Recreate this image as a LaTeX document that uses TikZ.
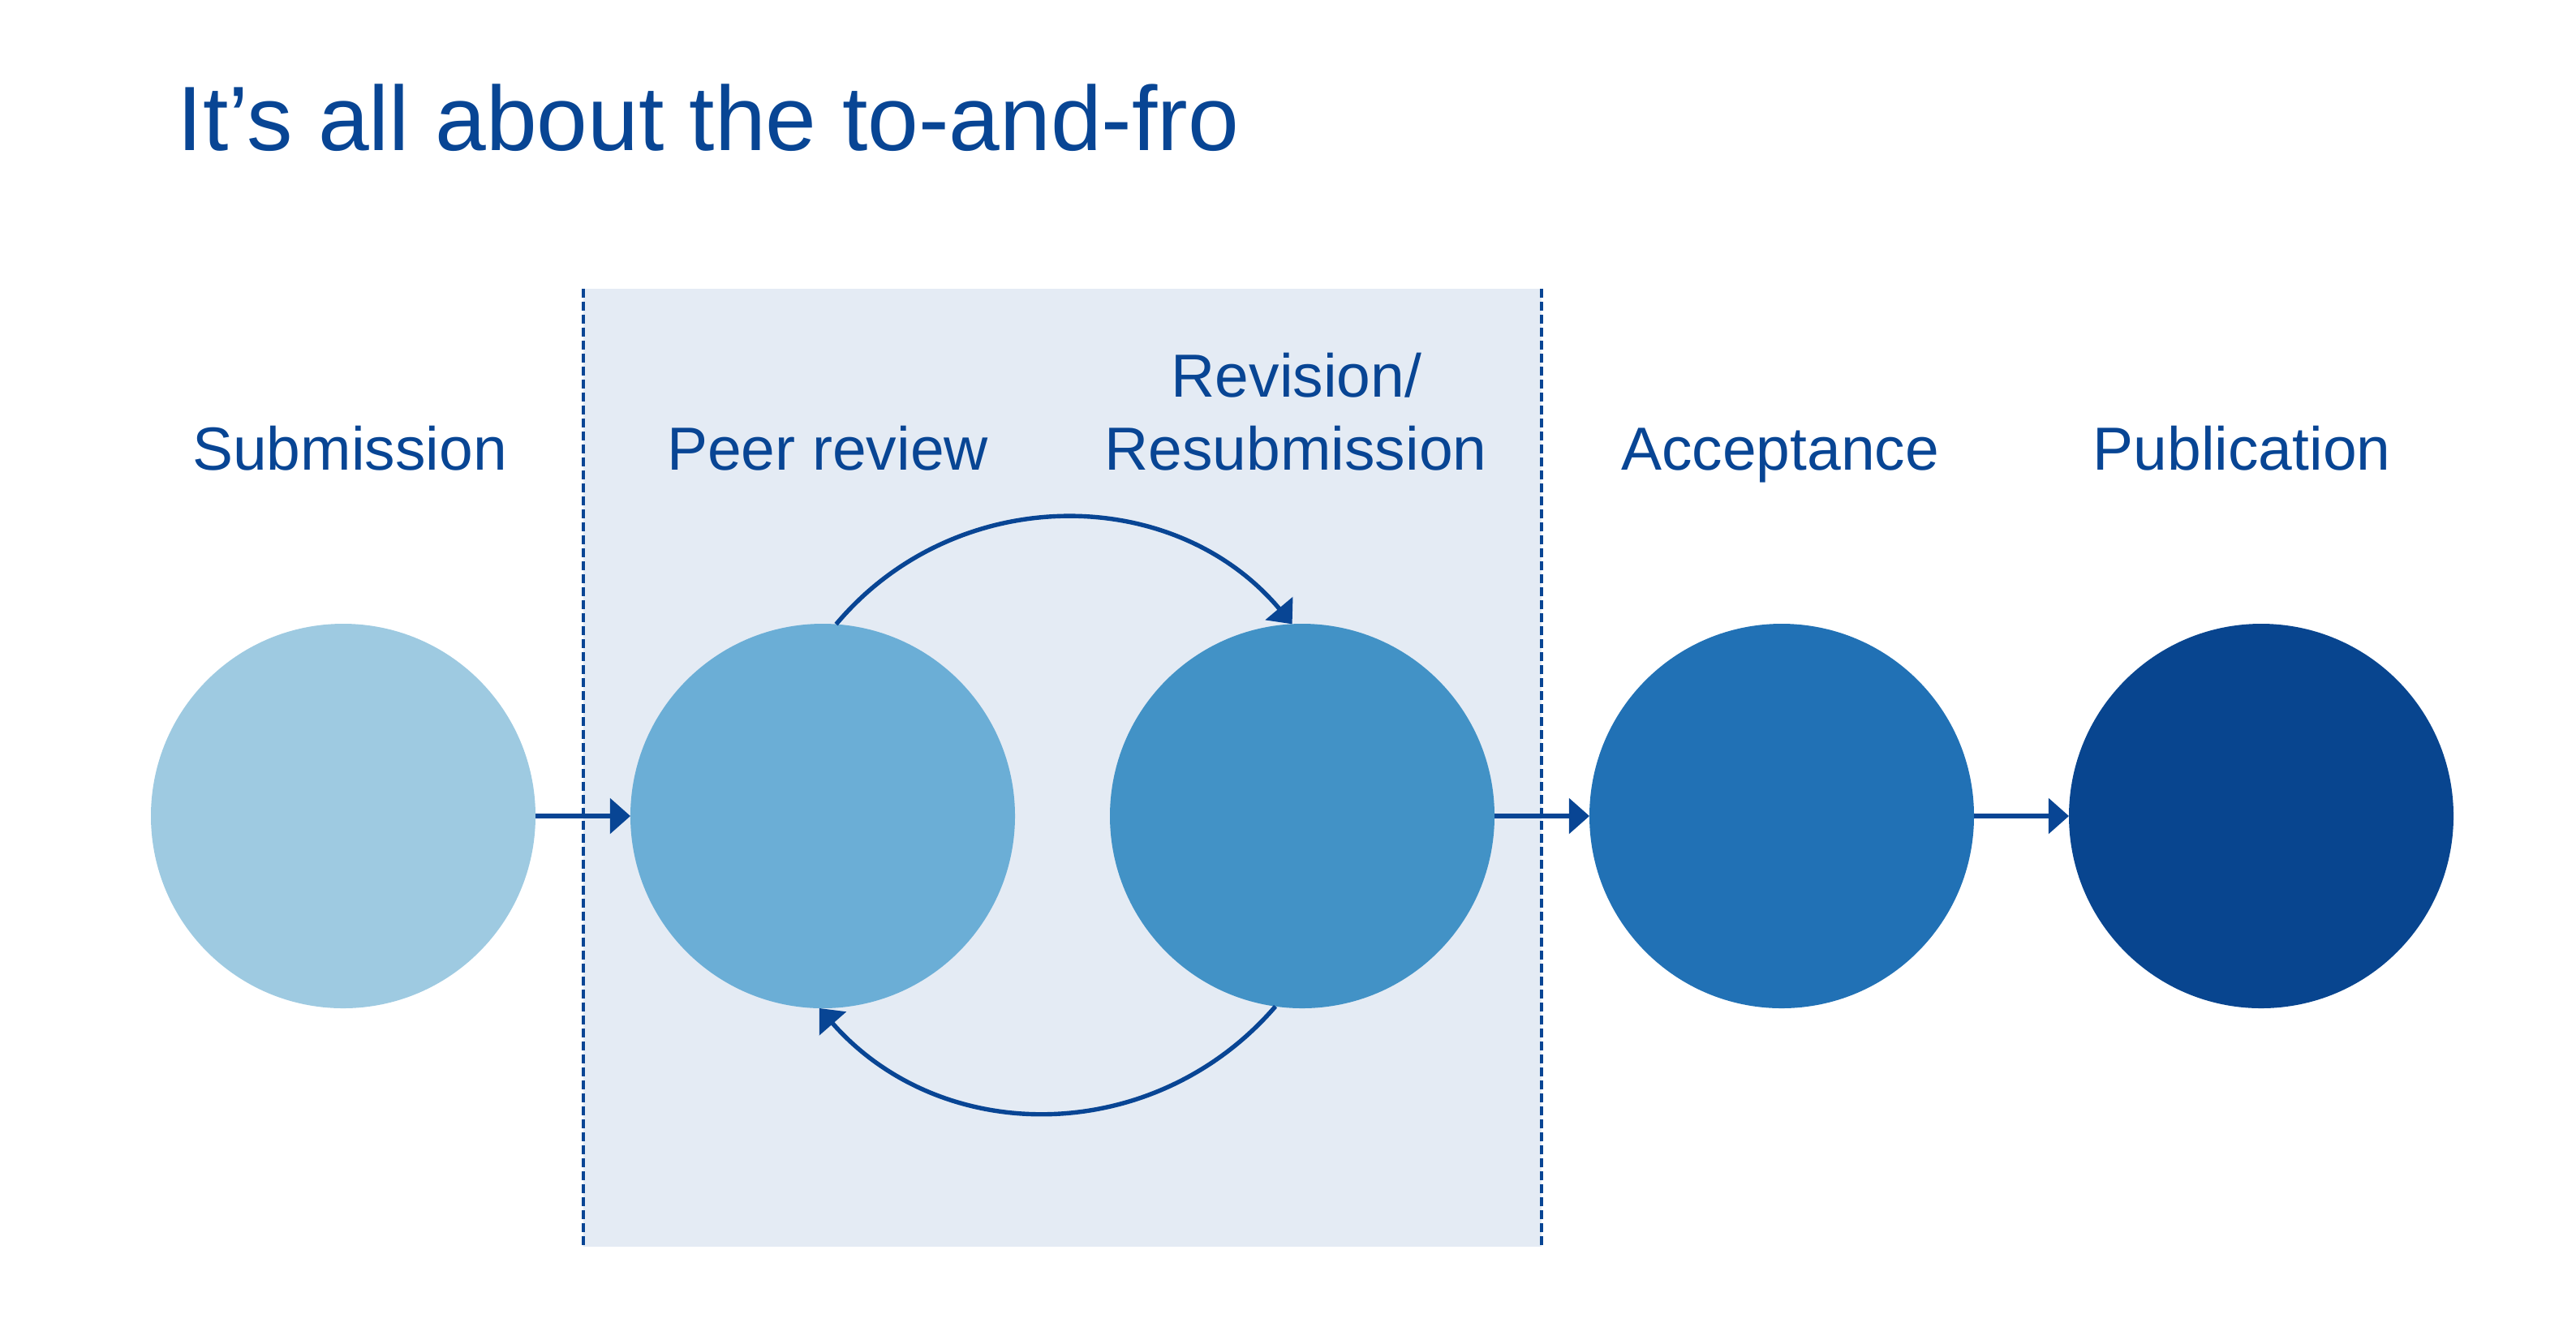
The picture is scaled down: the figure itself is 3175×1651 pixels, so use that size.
\documentclass[tikz,border=0pt]{standalone}
\usepackage{fontspec}
\setmainfont{Liberation Sans}
\usetikzlibrary{arrows.meta}
\definecolor{navy}{HTML}{084594}
\definecolor{boxfill}{HTML}{E4EBF4}
\definecolor{cA}{HTML}{9ECAE1}
\definecolor{cB}{HTML}{6BAED6}
\definecolor{cC}{HTML}{4292C6}
\definecolor{cD}{HTML}{2171B5}
\definecolor{cE}{HTML}{08458F}
\begin{document}
\begin{tikzpicture}[x=0.25pt,y=-0.25pt,
  stage/.style={circle,minimum size=118.5pt,inner sep=0pt,outer sep=0pt,draw=none},
  lbl/.style={text=navy,font=\fontsize{18.75}{22.5}\selectfont,anchor=base,inner sep=0pt},
  flow/.style={draw=navy,line width=1.35pt,-{Triangle[length=6.3pt,width=10.8pt]}},
  sepline/.style={draw=navy,line width=1pt,dash pattern=on 2.75pt off 1.25pt}]
\useasboundingbox (0,0) rectangle (3175,1651);
% shaded band
\fill[boxfill] (719,356) rectangle (1900,1537);
\coordinate (lt) at (719,356);
\coordinate (lb) at (719,1537);
\coordinate (rt) at (1900,356);
\coordinate (rb) at (1900,1537);
\draw[sepline] (lt) -- (lb);
\draw[sepline] (rt) -- (rb);
% title
\node[text=navy,font=\fontsize{28.2}{34}\selectfont,anchor=base west,inner sep=0pt] (title) at (218,185) {It’s all about the to-and-fro};
% circles
\node[stage,fill=cA] (c1) at (423,1006) {};
\node[stage,fill=cB] (c2) at (1014,1006) {};
\node[stage,fill=cC] (c3) at (1605,1006) {};
\node[stage,fill=cD] (c4) at (2196,1006) {};
\node[stage,fill=cE] (c5) at (2787,1006) {};
% labels
\node[lbl] (l1) at (431,579.5) {Submission};
\node[lbl] (l2) at (1020,579.5) {Peer review};
\node[lbl] (l3a) at (1598,489) {Revision/};
\node[lbl] (l3b) at (1597,579.5) {Resubmission};
\node[lbl] (l4) at (2194,579.5) {Acceptance};
\node[lbl] (l5) at (2763,579.5) {Publication};
% connectors
\draw[flow] (c1) -- (c2);
\draw[flow] (c3) -- (c4);
\draw[flow] (c4) -- (c5);
\draw[flow,looseness=1.04] (c2.86) to[bend left=50] (c3.93.4);
\draw[flow,looseness=1.04] (c3.262.7) to[bend left=49] (c2.269);
\end{tikzpicture}
\end{document}
